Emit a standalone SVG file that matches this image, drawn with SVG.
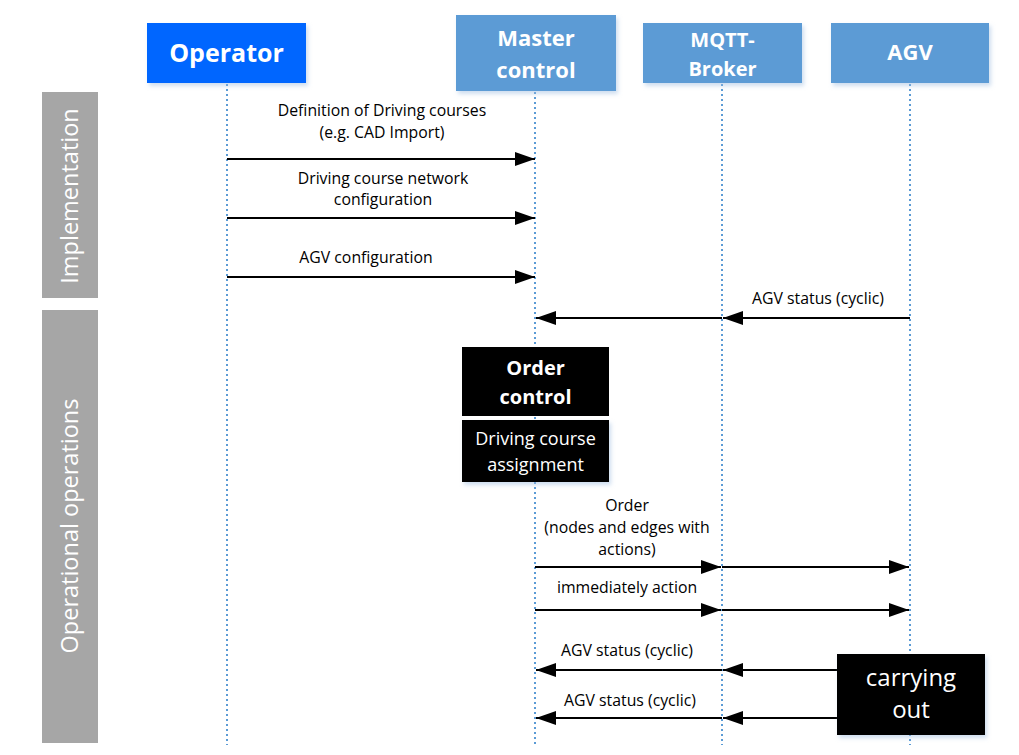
<svg xmlns="http://www.w3.org/2000/svg" width="1019" height="755" viewBox="0 0 1019 755">
<style>
.hdr{font-family:"Open Sans","Noto Sans",sans-serif;font-weight:bold;fill:#fff;text-anchor:middle}
.lbl{font-family:"Open Sans","Noto Sans",sans-serif;font-size:15.8px;fill:#000;text-anchor:middle}
.side{font-family:"Open Sans","Noto Sans",sans-serif;font-size:23.5px;fill:#fff;text-anchor:middle}
.life{stroke:#5B9BD5;stroke-width:2;stroke-dasharray:2 3;fill:none}
.msg{stroke:#000;stroke-width:2;fill:none;marker-end:url(#ah)}
.blk{fill:#000}
.wt{font-family:"Open Sans","Noto Sans",sans-serif;fill:#fff;text-anchor:middle}
</style>
<defs>
<marker id="ah" viewBox="0 0 20 14" refX="20" refY="7" markerWidth="20" markerHeight="14" markerUnits="userSpaceOnUse" orient="auto">
<path d="M0,0 L20,7 L0,14 Z" fill="#000"/>
</marker>
<filter id="sh" x="-10%" y="-10%" width="130%" height="130%">
<feDropShadow dx="2" dy="3" stdDeviation="2" flood-color="#9dbbe0" flood-opacity="0.5"/>
</filter>
</defs>
<rect width="1019" height="755" fill="#fff"/>

<g id="lifelines">
<line class="life" x1="227" y1="84" x2="227" y2="745"/>
<line class="life" x1="535" y1="92" x2="535" y2="745"/>
<line class="life" x1="722" y1="84" x2="722" y2="745"/>
<line class="life" x1="910" y1="84" x2="910" y2="745"/>
</g>

<g id="implementation">
<rect x="42" y="92" width="56" height="206" fill="#A6A6A6"/>
<text class="side" transform="translate(78,196) rotate(-90)">Implementation</text>
</g>
<g id="operational">
<rect x="42" y="310" width="56" height="433" fill="#A6A6A6"/>
<text class="side" transform="translate(78,526) rotate(-90)">Operational operations</text>
</g>

<g id="operator">
<rect x="147" y="23" width="159" height="60" fill="#0066FF" filter="url(#sh)"/>
<text class="hdr" x="226.5" y="62" font-size="25">Operator</text>
</g>
<g id="master">
<rect x="456" y="15" width="160" height="76" fill="#5B9BD5" filter="url(#sh)"/>
<text class="hdr" x="536" y="46" font-size="22">Master</text>
<text class="hdr" x="536" y="78" font-size="22">control</text>
</g>
<g id="mqtt">
<rect x="643" y="23" width="159" height="60" fill="#5B9BD5" filter="url(#sh)"/>
<text class="hdr" x="722.5" y="47" font-size="20">MQTT-</text>
<text class="hdr" x="722.5" y="76" font-size="20">Broker</text>
</g>
<g id="agv">
<rect x="831" y="23" width="158" height="60" fill="#5B9BD5" filter="url(#sh)"/>
<text class="hdr" x="910" y="60" font-size="22">AGV</text>
</g>

<g id="order-control">
<rect class="blk" x="462" y="347" width="147" height="69"/>
<text class="hdr" x="535.5" y="375" font-size="20">Order</text>
<text class="hdr" x="535.5" y="404" font-size="20">control</text>
</g>
<g id="driving-course-assignment">
<rect class="blk" x="462" y="420" width="147" height="62" filter="url(#sh)"/>
<text class="wt" x="535.5" y="445" font-size="18">Driving course</text>
<text class="wt" x="535.5" y="471" font-size="18">assignment</text>
</g>

<g id="connectors">
<line class="msg" x1="227" y1="159" x2="535" y2="159"/>
<line class="msg" x1="227" y1="218" x2="535" y2="218"/>
<line class="msg" x1="227" y1="277" x2="535" y2="277"/>
<line class="msg" x1="910" y1="318" x2="723" y2="318"/>
<line class="msg" x1="722" y1="318" x2="536" y2="318"/>
<line class="msg" x1="535" y1="567" x2="721" y2="567"/>
<line class="msg" x1="722" y1="567" x2="909" y2="567"/>
<line class="msg" x1="535" y1="610" x2="721" y2="610"/>
<line class="msg" x1="722" y1="610" x2="909" y2="610"/>
<line class="msg" x1="837" y1="670" x2="723" y2="670"/>
<line class="msg" x1="722" y1="670" x2="536" y2="670"/>
<line class="msg" x1="837" y1="718" x2="723" y2="718"/>
<line class="msg" x1="722" y1="718" x2="536" y2="718"/>
</g>

<g id="labels">
<text class="lbl" x="382" y="116">Definition of Driving courses</text>
<text class="lbl" x="382" y="138">(e.g. CAD Import)</text>
<text class="lbl" x="383" y="184">Driving course network</text>
<text class="lbl" x="383" y="205">configuration</text>
<text class="lbl" x="366" y="263">AGV configuration</text>
<text class="lbl" x="818" y="304">AGV status (cyclic)</text>
<text class="lbl" x="627" y="511">Order</text>
<text class="lbl" x="627" y="533">(nodes and edges with</text>
<text class="lbl" x="627" y="555">actions)</text>
<text class="lbl" x="627" y="593">immediately action</text>
<text class="lbl" x="627" y="656">AGV status (cyclic)</text>
<text class="lbl" x="630" y="706">AGV status (cyclic)</text>
</g>

<g id="carrying-out">
<rect class="blk" x="837" y="654" width="148" height="81" filter="url(#sh)"/>
<text class="wt" x="911" y="686" font-size="24">carrying</text>
<text class="wt" x="911" y="718" font-size="24">out</text>
</g>
</svg>
